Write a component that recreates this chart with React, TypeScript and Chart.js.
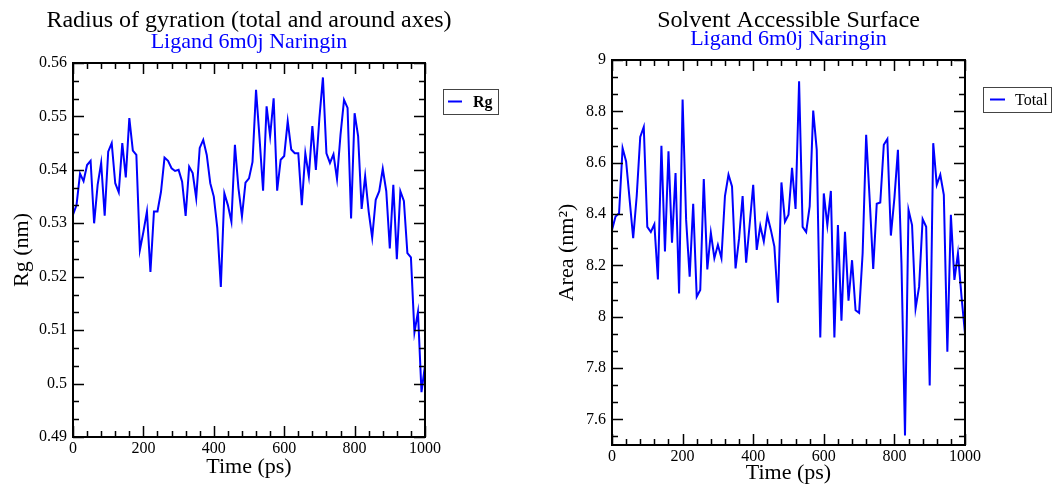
import React, { useEffect, useRef } from "react";
import { Chart, registerables } from "chart.js";

Chart.register(...registerables);

// ---- data ----
const TIME_PS = Array.from({ length: 101 }, (_, i) => i * 10);

const RG_NM = [
  0.5316, 0.5334, 0.5393, 0.5379, 0.5409, 0.5417, 0.5300, 0.5372, 0.5413, 0.5314,
  0.5434, 0.5450, 0.5375, 0.5358, 0.5450, 0.5386, 0.5497, 0.5436, 0.5428, 0.5250,
  0.5284, 0.5322, 0.5209, 0.5322, 0.5322, 0.5359, 0.5423, 0.5417, 0.5403, 0.5398,
  0.5400, 0.5378, 0.5314, 0.5406, 0.5394, 0.5347, 0.5441, 0.5456, 0.5428, 0.5375,
  0.5350, 0.5291, 0.5181, 0.5356, 0.5334, 0.5303, 0.5447, 0.5366, 0.5313, 0.5376,
  0.5384, 0.5415, 0.5550, 0.5459, 0.5361, 0.5519, 0.5463, 0.5534, 0.5361, 0.5419,
  0.5426, 0.5491, 0.5438, 0.5431, 0.5431, 0.5334, 0.5431, 0.5388, 0.5482, 0.5400,
  0.5497, 0.5573, 0.5431, 0.5413, 0.5429, 0.5383, 0.5466, 0.5531, 0.5516, 0.5309,
  0.5506, 0.5463, 0.5327, 0.5388, 0.5322, 0.5273, 0.5344, 0.5360, 0.5402, 0.5360,
  0.5253, 0.5372, 0.5233, 0.5360, 0.5342, 0.5244, 0.5236, 0.5096, 0.5134, 0.4984,
  0.5034,
];

const AREA_NM2 = [
  8.338, 8.390, 8.403, 8.657, 8.605, 8.455, 8.306, 8.470, 8.700, 8.739,
  8.350, 8.330, 8.360, 8.145, 8.666, 8.254, 8.644, 8.288, 8.560, 8.090,
  8.846, 8.377, 8.156, 8.440, 8.078, 8.104, 8.536, 8.184, 8.327, 8.228,
  8.280, 8.228, 8.470, 8.553, 8.507, 8.188, 8.305, 8.470, 8.210, 8.360,
  8.514, 8.260, 8.354, 8.293, 8.394, 8.338, 8.273, 8.054, 8.523, 8.370,
  8.397, 8.580, 8.420, 8.917, 8.350, 8.330, 8.430, 8.803, 8.650, 7.919,
  8.480, 8.357, 8.490, 7.919, 8.357, 7.984, 8.331, 8.062, 8.220, 8.025,
  8.015, 8.247, 8.709, 8.455, 8.186, 8.440, 8.445, 8.670, 8.692, 8.316,
  8.462, 8.650, 8.208, 7.537, 8.416, 8.357, 8.032, 8.117, 8.380, 8.350,
  7.732, 8.676, 8.514, 8.553, 8.475, 7.863, 8.397, 8.143, 8.247, 8.080,
  7.934,
];

const TIME_TICKS = [0, 200, 400, 600, 800, 1000];
const RG_TICKS = [0.49, 0.5, 0.51, 0.52, 0.53, 0.54, 0.55, 0.56];
const AREA_TICKS = [7.6, 7.8, 8, 8.2, 8.4, 8.6, 8.8, 9];

const SERIF = "'Liberation Serif', 'Times New Roman', serif";
const BLUE = "#0000ff";

// ---- plugin: xmgrace-like frame, inward ticks, titles, legend ----
const xmgrPlugin = {
  id: "xmgr",
  afterDraw(chart: any, _args: any, opts: any) {
    const { ctx, chartArea } = chart;
    const { left, right, top, bottom } = chartArea;
    const xs = chart.scales.x;
    const ys = chart.scales.y;
    ctx.save();

    // ticks
    ctx.strokeStyle = "#000";
    ctx.lineWidth = 1.5;
    const majorLen = 11;
    const minorLen = 6;
    const drawX = (v: number, len: number) => {
      const px = Math.round(xs.getPixelForValue(v)) + 0.5;
      ctx.beginPath();
      ctx.moveTo(px, bottom);
      ctx.lineTo(px, bottom - len);
      ctx.moveTo(px, top);
      ctx.lineTo(px, top + len);
      ctx.stroke();
    };
    const drawY = (v: number, len: number) => {
      const py = Math.round(ys.getPixelForValue(v)) + 0.5;
      ctx.beginPath();
      ctx.moveTo(left, py);
      ctx.lineTo(left + len, py);
      ctx.moveTo(right, py);
      ctx.lineTo(right - len, py);
      ctx.stroke();
    };
    const xt: number[] = opts.xTicks;
    xt.forEach((v, i) => {
      drawX(v, majorLen);
      if (i < xt.length - 1) {
        const step = (xt[i + 1] - v) / opts.xMinor;
        for (let k = 1; k < opts.xMinor; k++) drawX(v + k * step, minorLen);
      }
    });
    const yt: number[] = opts.yTicks;
    const yAll = [...yt];
    if (opts.yExtraBelow) yAll.unshift(yt[0] - (yt[1] - yt[0]));
    yAll.forEach((v, i) => {
      if (i < yAll.length - 1) {
        const step = (yAll[i + 1] - v) / opts.yMinor;
        for (let k = 1; k < opts.yMinor; k++) {
          const val = v + k * step;
          if (val > ys.min && val < ys.max) drawY(val, minorLen);
        }
      }
      if (v >= ys.min - 1e-9 && v <= ys.max + 1e-9) drawY(v, majorLen);
    });

    // frame
    ctx.lineWidth = 2;
    ctx.strokeRect(left, top, right - left, bottom - top);

    // titles
    const cx = (left + right) / 2;
    ctx.textAlign = "center";
    ctx.textBaseline = "alphabetic";
    ctx.fillStyle = "#000";
    ctx.font = `24px ${SERIF}`;
    ctx.fillText(opts.title, cx, opts.titleY);
    ctx.fillStyle = BLUE;
    ctx.font = `22px ${SERIF}`;
    ctx.fillText(opts.subtitle, cx, opts.subtitleY);

    // legend
    const lg = opts.legend;
    ctx.lineWidth = 1;
    ctx.strokeStyle = "#444";
    ctx.strokeRect(lg.x + 0.5, lg.y + 0.5, lg.w, lg.h);
    const ly = lg.y + lg.h / 2;
    const ds = chart.data.datasets[0];
    ctx.strokeStyle = ds.borderColor;
    ctx.lineWidth = 2;
    ctx.beginPath();
    ctx.moveTo(lg.x + lg.lineX0, ly);
    ctx.lineTo(lg.x + lg.lineX1, ly);
    ctx.stroke();
    ctx.fillStyle = "#000";
    ctx.textAlign = "left";
    ctx.textBaseline = "middle";
    ctx.font = `${lg.bold ? "bold " : ""}16px ${SERIF}`;
    ctx.fillText(ds.label, lg.x + lg.textX, ly + 1);

    ctx.restore();
  },
};

type PanelProps = {
  left: number;
  width: number;
  area: { l: number; r: number; t: number; b: number };
  values: number[];
  label: string;
  yTicks: number[];
  yMin: number;
  yMax: number;
  yMinor: number;
  yTitle: string;
  yTitlePad: number;
  xTitlePad: number;
  title: string;
  subtitle: string;
  titleY: number;
  subtitleY: number;
  legend: any;
  yExtraBelow?: boolean;
};

const H = 490;

function Panel(p: PanelProps) {
  const ref = useRef<HTMLCanvasElement>(null);
  useEffect(() => {
    const canvas = ref.current!;
    const fmt = (v: any) => String(Number(Number(v).toFixed(4)));
    const chart = new Chart(canvas, {
      type: "line",
      data: {
        datasets: [
          {
            label: p.label,
            data: p.values.map((v, i) => ({ x: TIME_PS[i], y: v })),
            borderColor: BLUE,
            backgroundColor: BLUE,
            borderWidth: 2,
            pointRadius: 0,
            tension: 0,
            fill: false,
          },
        ],
      },
      options: {
        responsive: false,
        animation: false,
        devicePixelRatio: 1,
        layout: { padding: { left: 0, top: p.area.t, right: p.width - p.area.r, bottom: 0 } },
        plugins: {
          legend: { display: false },
          title: { display: false },
          tooltip: { enabled: false },
          xmgr: {
            xTicks: TIME_TICKS,
            xMinor: 5,
            yTicks: p.yTicks,
            yMinor: p.yMinor,
            yExtraBelow: p.yExtraBelow,
            title: p.title,
            subtitle: p.subtitle,
            titleY: p.titleY,
            subtitleY: p.subtitleY,
            legend: p.legend,
          },
        } as any,
        scales: {
          x: {
            type: "linear",
            min: 0,
            max: 1000,
            grid: { display: false, drawTicks: false },
            border: { display: false },
            afterBuildTicks: (s: any) => {
              s.ticks = TIME_TICKS.map((value) => ({ value }));
            },
            afterFit: (s: any) => {
              s.height = H - p.area.b;
            },
            ticks: {
              padding: 2,
              maxRotation: 0,
              autoSkip: false,
              color: "#000",
              font: { family: SERIF, size: 16 },
              callback: fmt,
            },
            title: {
              display: true,
              text: "Time (ps)",
              color: "#000",
              font: { family: SERIF, size: 22 },
              padding: { top: 0, bottom: p.xTitlePad },
            },
          },
          y: {
            type: "linear",
            min: p.yMin,
            max: p.yMax,
            grid: { display: false, drawTicks: false },
            border: { display: false },
            afterBuildTicks: (s: any) => {
              s.ticks = p.yTicks.map((value) => ({ value }));
            },
            afterFit: (s: any) => {
              s.width = p.area.l;
            },
            ticks: {
              padding: 6,
              autoSkip: false,
              color: "#000",
              font: { family: SERIF, size: 16 },
              callback: fmt,
            },
            title: {
              display: true,
              text: p.yTitle,
              color: "#000",
              font: { family: SERIF, size: 22 },
              padding: { top: p.yTitlePad, bottom: 0 },
            },
          },
        },
      },
      plugins: [xmgrPlugin],
    } as any);
    return () => chart.destroy();
  }, []);
  return (
    <div style={{ position: "absolute", left: p.left, top: 0, width: p.width, height: H }}>
      <canvas ref={ref} width={p.width} height={H} style={{ width: p.width, height: H, display: "block" }} />
    </div>
  );
}

export default function App() {
  return (
    <div style={{ position: "fixed", left: 0, top: 0, width: 1057, height: H, background: "#fff", overflow: "hidden" }}>
      <Panel
        left={0}
        width={530}
        area={{ l: 73, r: 425, t: 63, b: 437 }}
        values={RG_NM}
        label="Rg"
        yTicks={RG_TICKS}
        yMin={0.49}
        yMax={0.56}
        yMinor={3}
        yTitle="Rg (nm)"
        yTitlePad={9}
        xTitlePad={10}
        title="Radius of gyration (total and around axes)"
        subtitle="Ligand 6m0j Naringin"
        titleY={27}
        subtitleY={48}
        legend={{ x: 443, y: 89, w: 55, h: 25, lineX0: 5, lineX1: 19, textX: 30, bold: true }}
      />
      <Panel
        left={530}
        width={527}
        area={{ l: 82, r: 435, t: 60, b: 445 }}
        values={AREA_NM2}
        label="Total"
        yTicks={AREA_TICKS}
        yMin={7.5}
        yMax={9}
        yMinor={3}
        yExtraBelow={true}
        yTitle="Area (nm²)"
        yTitlePad={24}
        xTitlePad={4}
        title="Solvent Accessible Surface"
        subtitle="Ligand 6m0j Naringin"
        titleY={27}
        subtitleY={45}
        legend={{ x: 453, y: 87, w: 68, h: 25, lineX0: 7, lineX1: 22, textX: 32, bold: false }}
      />
    </div>
  );
}
